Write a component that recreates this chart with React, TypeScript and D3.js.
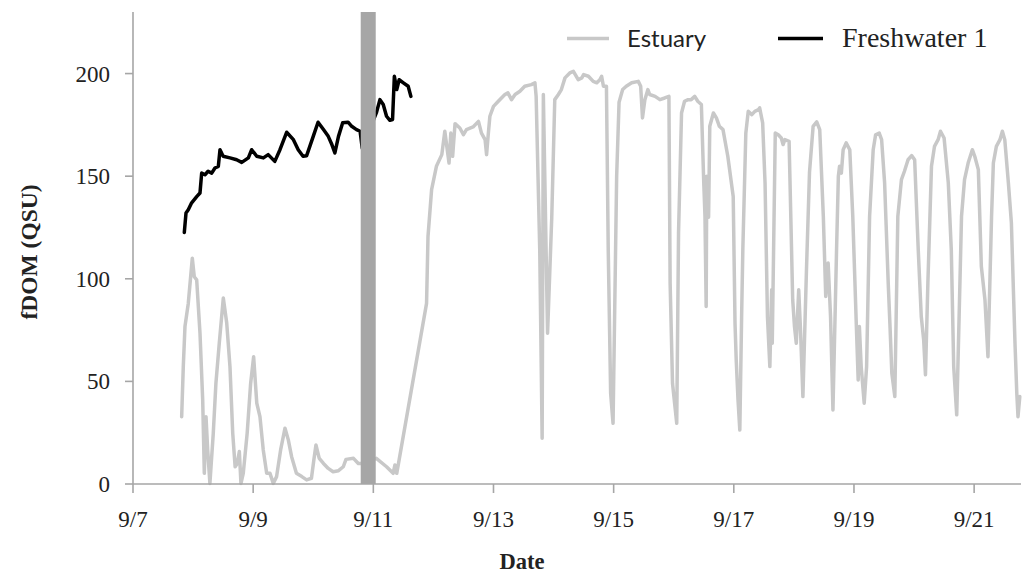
import React from "react";
import * as d3 from "d3";

// Time axis in days of September (fractional), fDOM in QSU.
const estuaryDay = [
  7.81, 7.837, 7.865, 7.92, 7.987, 8.02, 8.06, 8.115, 8.16, 8.187, 8.215, 8.243, 8.28,
  8.336, 8.38, 8.436, 8.503, 8.56, 8.614, 8.66, 8.7, 8.735, 8.77, 8.797, 8.835, 8.9,
  8.958, 9.008, 9.06, 9.113, 9.168, 9.225, 9.28, 9.335, 9.39, 9.457, 9.53, 9.585, 9.64,
  9.72, 9.81, 9.89, 9.97, 10.01, 10.045, 10.1, 10.17, 10.25, 10.33, 10.42, 10.5, 10.545,
  10.67, 10.75, 10.815, 11.05, 11.22, 11.33, 11.36, 11.39, 11.886, 11.91, 11.97, 12.05,
  12.14, 12.19, 12.23, 12.26, 12.29, 12.32, 12.36, 12.44, 12.5, 12.55, 12.66, 12.75, 12.8,
  12.86, 12.885, 12.91, 12.94, 13.0, 13.08, 13.19, 13.24, 13.3, 13.36, 13.44, 13.52, 13.63,
  13.69, 13.71, 13.77, 13.81, 13.83, 13.9, 13.97, 14.02, 14.08, 14.13, 14.19, 14.27, 14.33,
  14.41, 14.47, 14.5, 14.58, 14.66, 14.72, 14.77, 14.8, 14.83, 14.88, 14.91, 14.95, 14.99,
  15.05, 15.09, 15.15, 15.21, 15.3, 15.41, 15.45, 15.48, 15.52, 15.57, 15.6, 15.69, 15.77,
  15.85, 15.92, 15.94, 15.98, 16.05, 16.08, 16.13, 16.18, 16.24, 16.29, 16.35, 16.4, 16.46,
  16.5, 16.52, 16.54, 16.55, 16.58, 16.6, 16.66, 16.71, 16.76, 16.82, 16.9, 16.99, 17.02,
  17.04, 17.07, 17.1, 17.13, 17.15, 17.2, 17.24, 17.3, 17.35, 17.41, 17.43, 17.48, 17.52,
  17.56, 17.6, 17.63, 17.64, 17.67, 17.69, 17.74, 17.79, 17.82, 17.85, 17.92, 17.98, 18.01,
  18.04, 18.08, 18.11, 18.15, 18.21, 18.26, 18.32, 18.38, 18.43, 18.49, 18.53, 18.57, 18.61,
  18.65, 18.71, 18.74, 18.76, 18.79, 18.82, 18.87, 18.93, 18.98, 19.04, 19.07, 19.09, 19.12,
  19.17, 19.21, 19.26, 19.32, 19.36, 19.42, 19.46, 19.51, 19.57, 19.6, 19.63, 19.68, 19.73,
  19.79, 19.84, 19.9, 19.96, 20.01, 20.07, 20.12, 20.16, 20.19, 20.23, 20.29, 20.34, 20.4,
  20.44, 20.5, 20.57, 20.62, 20.66, 20.71, 20.75, 20.79, 20.84, 20.9, 20.97, 21.01, 21.07,
  21.12, 21.18, 21.23, 21.29, 21.32, 21.37, 21.43, 21.47, 21.51, 21.57, 21.62, 21.68, 21.71,
  21.73, 21.76,
];
const estuaryFdom = [
  32.8, 57.2, 76.7, 88, 110, 101, 99.5, 73.5, 41, 5.2, 32.8, 16.6, 0.3,
  24.7, 49, 68.6, 90.6, 78.4, 57.2, 24.7, 8.4, 10, 15.8, 0.3, 5.2, 24.7,
  49, 62, 39.4, 32.8, 16.6, 5.2, 5.2, 0.3, 3.6, 16.6, 27.2, 21.5, 13.3,
  5.2, 3.6, 2, 2.8, 11.7, 19, 12.5, 10, 7.6, 6, 6.5, 8.4, 12,
  12.5, 10, 10, 12.5, 8.4, 5.2, 9.3, 5.2, 88, 120.6, 143.4, 154.8,
  160.5, 171.9, 163, 156.4, 171, 159.7, 175.6, 173.5, 170.2, 172.7, 174, 176.7, 171,
  167.8, 160.5, 169.4, 179.2, 184, 186.5, 189.8, 190.6, 187.3, 189.8, 191.4, 193.8, 194.6,
  195.5, 188.9, 114, 22.3, 189.8, 73.5, 130, 187.3, 189.8, 192.2, 197.9, 200.3, 201.1,
  197, 197.9, 199.5, 198.7, 196.2, 195.5, 197, 198.7, 193.8, 193.8, 114, 44.2, 29.6,
  150, 186, 192.2, 193.8, 195.5, 196.2, 193.8, 178.4, 187.3, 192.2, 189.8, 188.9, 187.3,
  188.1, 188.9, 97.9, 49, 29.6, 122.3, 180.8, 186.5, 187.3, 187.3, 188.9, 186.5, 184.9,
  146.7, 130.4, 86.5, 150, 130, 174.3, 180.8, 178.4, 174.3, 172.7, 159.7, 140.1, 78.4,
  60.5, 41, 26.3, 81.6, 114, 171, 181.6, 180, 181.6, 182.4, 183.3, 176, 146.7,
  81.6, 57.2, 94.6, 68.6, 130.4, 171, 170.2, 168.6, 165.4, 167.8, 167, 89.8, 76.7,
  68.6, 94.6, 75.1, 42.6, 105, 152, 174.3, 176.5, 172.7, 130.4, 91.4, 107.7, 81.6,
  36.1, 114, 150, 154.8, 151.5, 162.9, 166.2, 162.9, 130.4, 76.7, 50.7, 76.7, 57.2,
  39.4, 57.2, 130.4, 162.9, 170.2, 171, 167.8, 146.7, 97.9, 76.7, 54, 42.6, 130.4,
  148.3, 152.4, 158, 160, 158, 114, 81.6, 70.2, 53.2, 97.9, 154.8, 164.5, 167.8,
  171.9, 168.6, 146.7, 114, 57.2, 33.7, 81.6, 130.4, 148.3, 156.4, 162.9, 159.7, 153.2,
  106, 89.8, 62, 130.4, 156.4, 164.5, 167.8, 171.9, 167.8, 146.7, 127.2, 68.6, 44.2,
  32.8, 42.6,
];

const freshDay = [
  7.854, 7.882, 7.92, 7.976, 8.06, 8.115, 8.143, 8.198, 8.25, 8.31, 8.364, 8.42, 8.448,
  8.5, 8.614, 8.725, 8.81, 8.92, 8.975, 9.06, 9.17, 9.25, 9.36, 9.446, 9.557, 9.67, 9.75,
  9.83, 9.89, 10.0, 10.08, 10.17, 10.25, 10.31, 10.36, 10.42, 10.49, 10.58, 10.64, 10.72,
  10.78, 10.815, 11.05, 11.11, 11.165, 11.22, 11.276, 11.32, 11.35, 11.39, 11.43, 11.5,
  11.58, 11.625,
];
const freshFdom = [
  122.6, 132, 133.6, 137, 140, 141.8, 151.5, 150.7, 152.4, 151.5, 154, 154.8, 162.9,
  159.7, 158.9, 158, 156.7, 158.9, 162.9, 159.7, 158.9, 160.5, 157.2, 162.9, 171.4, 167.8, 162.9,
  159.7, 160, 169.4, 176.3, 172.7, 169.4, 165.4, 161.3, 169.4, 176, 176.3, 174.3, 172.7,
  171.9, 163.7, 180.8, 187.3, 184.9, 179.2, 177.2, 177.6, 198.7, 192.2, 197, 195.5,
  193.8, 188.9,
];

// Sensor-gap band (days of September)
const gapStart = 10.79;
const gapEnd = 11.04;

const dayTicks = [7, 9, 11, 13, 15, 17, 19, 21];
const fdomTicks = [0, 50, 100, 150, 200];
const seriesNames = ["Estuary", "Freshwater 1"];

const W = 1023;
const H = 574;
const axisColor = "#a6a6a6";
const estuaryColor = "#c8c8c8";
const freshColor = "#000000";
const serif = "'Liberation Serif', 'Times New Roman', serif";

export default function App() {
  const x = d3.scaleLinear().domain([7, 21.78]).range([133, 1021]);
  const y = d3.scaleLinear().domain([0, 230]).range([484, 12]);

  const line = d3
    .line<[number, number]>()
    .x((d) => x(d[0]))
    .y((d) => y(d[1]));

  const estuary = estuaryDay.map((d, i) => [d, estuaryFdom[i]] as [number, number]);
  const fresh = freshDay.map((d, i) => [d, freshFdom[i]] as [number, number]);

  const [x0, x1] = x.range();
  const [yBottom, yTop] = y.range();

  return (
    <svg
      width={W}
      height={H}
      viewBox={`0 0 ${W} ${H}`}
      style={{ position: "absolute", left: 0, top: 0, background: "#fff" }}
    >
      {/* series */}
      <path
        d={line(estuary) || ""}
        fill="none"
        stroke={estuaryColor}
        strokeWidth={3.5}
        strokeLinejoin="round"
        strokeLinecap="round"
      />
      <path
        d={line(fresh) || ""}
        fill="none"
        stroke={freshColor}
        strokeWidth={3.5}
        strokeLinejoin="round"
        strokeLinecap="round"
      />

      {/* gap band */}
      <rect
        x={x(gapStart)}
        y={yTop}
        width={x(gapEnd) - x(gapStart)}
        height={yBottom - yTop}
        fill="#a6a6a6"
      />

      {/* axes */}
      <line x1={x0} x2={x0} y1={yTop} y2={yBottom} stroke={axisColor} strokeWidth={1.6} />
      <line x1={x0} x2={x1} y1={yBottom} y2={yBottom} stroke={axisColor} strokeWidth={1.6} />

      {fdomTicks.map((t) => (
        <g key={`y${t}`}>
          <line x1={x0 - 8} x2={x0} y1={y(t)} y2={y(t)} stroke={axisColor} strokeWidth={1.6} />
          <text
            x={110}
            y={y(t) + 8}
            textAnchor="end"
            fontFamily={serif}
            fontSize={23}
            fill="#222"
          >
            {t}
          </text>
        </g>
      ))}

      {dayTicks.map((t) => (
        <g key={`x${t}`}>
          <line x1={x(t)} x2={x(t)} y1={yBottom} y2={yBottom + 9} stroke={axisColor} strokeWidth={1.6} />
          <text
            x={x(t)}
            y={527}
            textAnchor="middle"
            fontFamily={serif}
            fontSize={23}
            fill="#222"
          >
            {`9/${t}`}
          </text>
        </g>
      ))}

      {/* axis titles */}
      <text
        x={522}
        y={569}
        textAnchor="middle"
        fontFamily={serif}
        fontWeight="bold"
        fontSize={22.5}
        fill="#222"
      >
        Date
      </text>
      <text
        transform={`translate(37, 252) rotate(-90)`}
        textAnchor="middle"
        fontFamily={serif}
        fontWeight="bold"
        fontSize={23.5}
        fill="#222"
      >
        fDOM (QSU)
      </text>

      {/* legend */}
      <line x1={567} x2={609} y1={38.5} y2={38.5} stroke={estuaryColor} strokeWidth={3.5} />
      <text x={627} y={46.5} fontFamily="Lato, 'Open Sans', sans-serif" fontSize={24} fill="#222">
        {seriesNames[0]}
      </text>
      <line x1={778} x2={823} y1={38.5} y2={38.5} stroke={freshColor} strokeWidth={3.5} />
      <text x={842} y={46.5} fontFamily={serif} fontSize={28} fill="#222">
        {seriesNames[1]}
      </text>
    </svg>
  );
}
